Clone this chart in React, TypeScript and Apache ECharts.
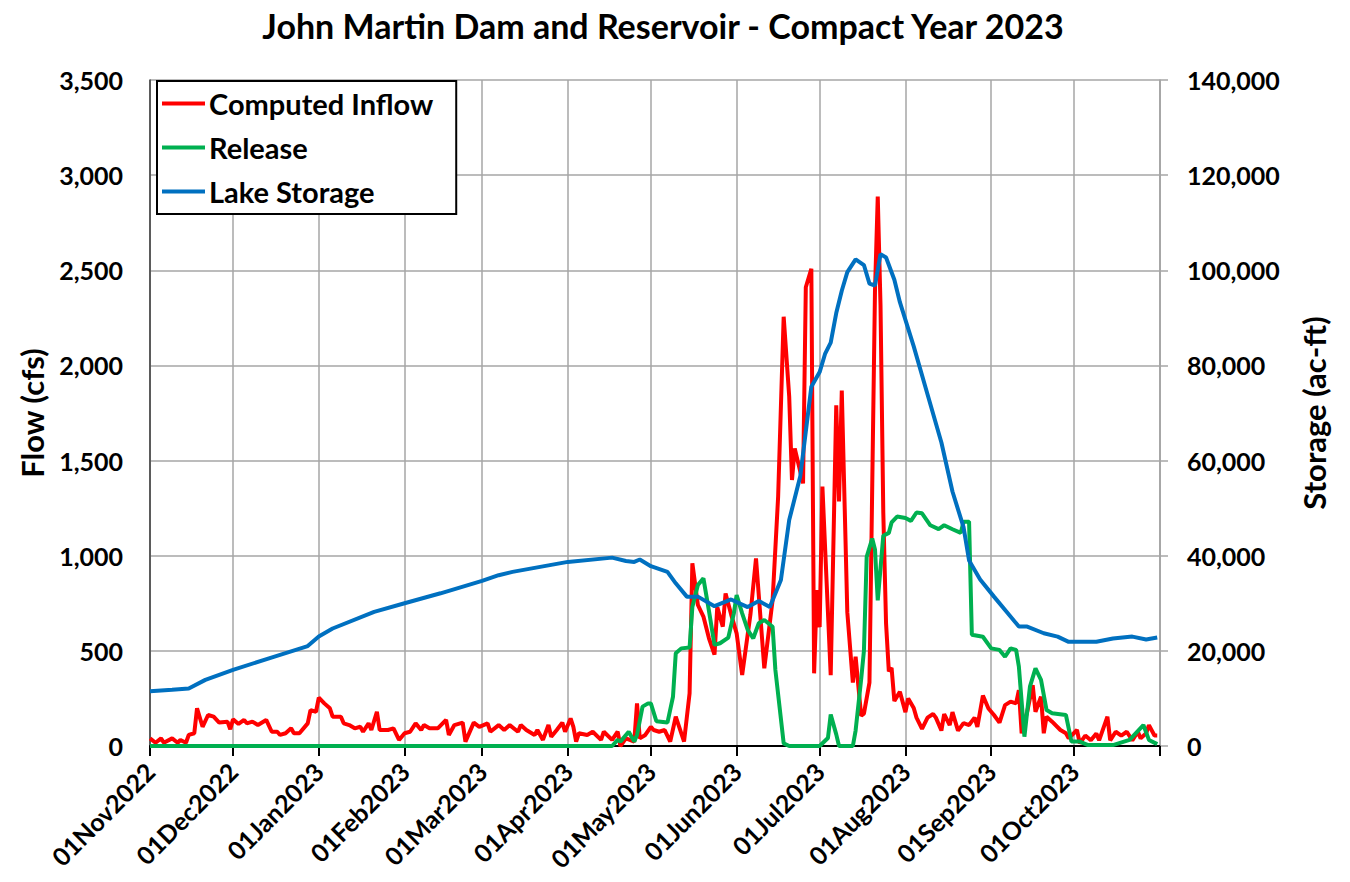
import React, { useEffect, useRef } from "react";
import * as echarts from "echarts";

const TITLE = "John Martin Dam and Reservoir - Compact Year 2023";
const SERIES_NAMES = ["Computed Inflow", "Release", "Lake Storage"];
const SERIES_COLORS = ["#ff0000", "#00b050", "#0070c0"];
const MONTH_ABBR = ["Jan", "Feb", "Mar", "Apr", "May", "Jun", "Jul", "Aug", "Sep", "Oct", "Nov", "Dec"];

// Computed Inflow (cfs)
const inflow: [string, number][] = [
  ["2022-11-01", 40], ["2022-11-03", 17], ["2022-11-05", 40], ["2022-11-06", 17], ["2022-11-09", 40],
  ["2022-11-11", 17], ["2022-11-12", 32], ["2022-11-14", 17], ["2022-11-15", 58], ["2022-11-17", 67],
  ["2022-11-18", 198], ["2022-11-20", 101], ["2022-11-22", 163], ["2022-11-24", 154], ["2022-11-26", 123],
  ["2022-11-29", 128], ["2022-11-30", 88], ["2022-12-01", 140], ["2022-12-03", 116], ["2022-12-05", 137],
  ["2022-12-06", 119], ["2022-12-08", 128], ["2022-12-10", 110], ["2022-12-13", 137], ["2022-12-15", 75],
  ["2022-12-17", 75], ["2022-12-18", 58], ["2022-12-20", 67], ["2022-12-22", 93], ["2022-12-23", 67],
  ["2022-12-25", 67], ["2022-12-28", 119], ["2022-12-29", 189], ["2022-12-31", 180], ["2023-01-01", 254],
  ["2023-01-03", 224], ["2023-01-05", 198], ["2023-01-06", 154], ["2023-01-09", 154], ["2023-01-10", 119],
  ["2023-01-12", 110], ["2023-01-14", 93], ["2023-01-16", 101], ["2023-01-17", 75], ["2023-01-19", 119],
  ["2023-01-20", 84], ["2023-01-22", 180], ["2023-01-23", 84], ["2023-01-26", 84], ["2023-01-28", 93],
  ["2023-01-30", 32], ["2023-02-01", 67], ["2023-02-03", 75], ["2023-02-05", 119], ["2023-02-07", 84],
  ["2023-02-08", 110], ["2023-02-10", 93], ["2023-02-13", 93], ["2023-02-16", 137], ["2023-02-17", 58],
  ["2023-02-19", 110], ["2023-02-22", 123], ["2023-02-23", 23], ["2023-02-26", 123], ["2023-02-28", 101],
  ["2023-03-03", 119], ["2023-03-04", 75], ["2023-03-07", 110], ["2023-03-09", 84], ["2023-03-11", 110],
  ["2023-03-14", 75], ["2023-03-15", 110], ["2023-03-17", 84], ["2023-03-20", 58], ["2023-03-21", 84],
  ["2023-03-23", 32], ["2023-03-25", 110], ["2023-03-26", 49], ["2023-03-28", 84], ["2023-03-30", 123],
  ["2023-03-31", 75], ["2023-04-02", 145], ["2023-04-03", 101], ["2023-04-04", 23], ["2023-04-05", 67],
  ["2023-04-08", 58], ["2023-04-10", 75], ["2023-04-13", 32], ["2023-04-14", 75], ["2023-04-17", 32],
  ["2023-04-19", 75], ["2023-04-20", 0], ["2023-04-22", 40], ["2023-04-25", 23], ["2023-04-26", 224],
  ["2023-04-27", 40], ["2023-04-29", 58], ["2023-05-01", 101], ["2023-05-02", 84], ["2023-05-04", 75],
  ["2023-05-06", 84], ["2023-05-08", 23], ["2023-05-10", 154], ["2023-05-13", 23], ["2023-05-15", 277],
  ["2023-05-16", 960], ["2023-05-18", 741], ["2023-05-20", 680], ["2023-05-22", 566], ["2023-05-24", 480],
  ["2023-05-25", 730], ["2023-05-27", 627], ["2023-05-28", 802], ["2023-05-30", 692], ["2023-06-01", 592],
  ["2023-06-03", 373], ["2023-06-06", 692], ["2023-06-08", 986], ["2023-06-11", 408], ["2023-06-14", 767],
  ["2023-06-16", 1310], ["2023-06-18", 2256], ["2023-06-20", 1836], ["2023-06-21", 1398], ["2023-06-22", 1564],
  ["2023-06-25", 1380], ["2023-06-26", 2411], ["2023-06-28", 2508], ["2023-06-29", 382], ["2023-06-30", 819],
  ["2023-07-01", 624], ["2023-07-02", 1363], ["2023-07-05", 372], ["2023-07-07", 1790], ["2023-07-08", 1285],
  ["2023-07-09", 1868], ["2023-07-11", 702], ["2023-07-13", 333], ["2023-07-14", 469], ["2023-07-16", 159],
  ["2023-07-17", 170], ["2023-07-19", 333], ["2023-07-21", 2392], ["2023-07-22", 2887], ["2023-07-23", 2314],
  ["2023-07-24", 1227], ["2023-07-25", 644], ["2023-07-26", 392], ["2023-07-27", 411], ["2023-07-28", 236],
  ["2023-07-30", 285], ["2023-08-01", 178], ["2023-08-02", 250], ["2023-08-04", 200], ["2023-08-05", 149],
  ["2023-08-07", 90], ["2023-08-09", 149], ["2023-08-11", 168], ["2023-08-12", 149], ["2023-08-14", 81],
  ["2023-08-15", 168], ["2023-08-17", 110], ["2023-08-18", 178], ["2023-08-20", 81], ["2023-08-22", 120],
  ["2023-08-24", 110], ["2023-08-26", 149], ["2023-08-27", 100], ["2023-08-29", 265], ["2023-08-31", 197],
  ["2023-09-02", 163], ["2023-09-04", 123], ["2023-09-06", 215], ["2023-09-08", 233], ["2023-09-10", 224],
  ["2023-09-11", 294], ["2023-09-12", 67], ["2023-09-14", 180], ["2023-09-16", 320], ["2023-09-17", 180],
  ["2023-09-19", 259], ["2023-09-20", 67], ["2023-09-21", 154], ["2023-09-23", 128], ["2023-09-26", 84],
  ["2023-09-28", 67], ["2023-09-29", 40], ["2023-10-02", 84], ["2023-10-03", 14], ["2023-10-05", 55],
  ["2023-10-07", 30], ["2023-10-09", 65], ["2023-10-10", 30], ["2023-10-13", 154], ["2023-10-14", 30],
  ["2023-10-16", 75], ["2023-10-18", 55], ["2023-10-20", 75], ["2023-10-22", 30], ["2023-10-24", 75],
  ["2023-10-25", 40], ["2023-10-27", 67], ["2023-10-28", 110], ["2023-10-30", 55], ["2023-10-31", 55],
];

// Release (cfs)
const release: [string, number][] = [
  ["2022-11-01", 0], ["2023-04-17", 0], ["2023-04-19", 32], ["2023-04-20", 23], ["2023-04-23", 75],
  ["2023-04-25", 23], ["2023-04-26", 58], ["2023-04-28", 207], ["2023-04-30", 224], ["2023-05-01", 224],
  ["2023-05-03", 130], ["2023-05-07", 123], ["2023-05-09", 259], ["2023-05-10", 487], ["2023-05-12", 513],
  ["2023-05-15", 518], ["2023-05-16", 730], ["2023-05-18", 846], ["2023-05-20", 881], ["2023-05-22", 710],
  ["2023-05-24", 531], ["2023-05-26", 540], ["2023-05-29", 570], ["2023-05-31", 697], ["2023-06-01", 793],
  ["2023-06-03", 697], ["2023-06-05", 610], ["2023-06-07", 566], ["2023-06-09", 645], ["2023-06-11", 662],
  ["2023-06-14", 627], ["2023-06-15", 400], ["2023-06-18", 14], ["2023-06-20", 0], ["2023-07-01", 0],
  ["2023-07-04", 42], ["2023-07-05", 165], ["2023-07-07", 61], ["2023-07-08", 0], ["2023-07-13", 0],
  ["2023-07-14", 81], ["2023-07-16", 350], ["2023-07-17", 500], ["2023-07-18", 994], ["2023-07-20", 1090],
  ["2023-07-21", 1033], ["2023-07-22", 765], ["2023-07-24", 1105], ["2023-07-26", 1120], ["2023-07-27", 1175],
  ["2023-07-29", 1206], ["2023-08-01", 1198], ["2023-08-03", 1183], ["2023-08-05", 1227], ["2023-08-07", 1223],
  ["2023-08-10", 1160], ["2023-08-13", 1140], ["2023-08-15", 1160], ["2023-08-18", 1139], ["2023-08-21", 1120],
  ["2023-08-22", 1179], ["2023-08-24", 1179], ["2023-08-25", 585], ["2023-08-29", 574], ["2023-09-01", 513],
  ["2023-09-04", 505], ["2023-09-06", 469], ["2023-09-08", 513], ["2023-09-10", 505], ["2023-09-11", 417],
  ["2023-09-13", 49], ["2023-09-15", 312], ["2023-09-17", 408], ["2023-09-19", 347], ["2023-09-21", 189],
  ["2023-09-23", 172], ["2023-09-28", 163], ["2023-09-30", 23], ["2023-10-03", 23], ["2023-10-06", 5],
  ["2023-10-15", 5], ["2023-10-21", 32], ["2023-10-26", 110], ["2023-10-28", 32], ["2023-10-31", 10],
];

// Lake Storage (ac-ft)
const storage: [string, number][] = [
  ["2022-11-01", 11500], ["2022-11-09", 11800], ["2022-11-15", 12100], ["2022-11-21", 13900], ["2022-12-01", 16000],
  ["2022-12-16", 18800], ["2022-12-28", 21000], ["2023-01-01", 23000], ["2023-01-06", 24700], ["2023-01-21", 28200],
  ["2023-02-01", 30000], ["2023-02-14", 32100], ["2023-03-01", 34700], ["2023-03-07", 35900], ["2023-03-12", 36600],
  ["2023-04-01", 38700], ["2023-04-17", 39600], ["2023-04-22", 38900], ["2023-04-25", 38700], ["2023-04-27", 39200],
  ["2023-05-01", 37800], ["2023-05-07", 36600], ["2023-05-10", 34200], ["2023-05-14", 31400], ["2023-05-18", 31400],
  ["2023-05-24", 29400], ["2023-05-30", 30800], ["2023-06-05", 29200], ["2023-06-09", 30500], ["2023-06-13", 29200],
  ["2023-06-17", 34900], ["2023-06-20", 47500], ["2023-06-24", 56700], ["2023-06-26", 66100], ["2023-06-28", 75500],
  ["2023-07-01", 78600], ["2023-07-03", 82500], ["2023-07-05", 84800], ["2023-07-07", 91000], ["2023-07-09", 95700],
  ["2023-07-11", 99600], ["2023-07-14", 102300], ["2023-07-17", 101100], ["2023-07-19", 97200], ["2023-07-21", 96800],
  ["2023-07-23", 103400], ["2023-07-25", 102700], ["2023-07-28", 98000], ["2023-07-30", 93300], ["2023-08-04", 84000],
  ["2023-08-09", 73900], ["2023-08-14", 63800], ["2023-08-18", 53500], ["2023-08-22", 46000], ["2023-08-24", 39000],
  ["2023-08-28", 35000], ["2023-09-02", 31400], ["2023-09-07", 27900], ["2023-09-11", 25100], ["2023-09-14", 25100],
  ["2023-09-20", 23700], ["2023-09-25", 23000], ["2023-09-29", 21900], ["2023-10-09", 21900], ["2023-10-15", 22600],
  ["2023-10-22", 23000], ["2023-10-27", 22400], ["2023-10-31", 22800],
];

const X_MIN = new Date(2022, 10, 1).getTime();
const X_MAX = new Date(2023, 10, 1).getTime();

const FONT = "Lato";

function fmtDate(v: number): string {
  const d = new Date(v);
  const dd = String(d.getDate()).padStart(2, "0");
  return dd + MONTH_ABBR[d.getMonth()] + d.getFullYear();
}

function fmtNum(v: number): string {
  return Math.round(v).toLocaleString("en-US");
}

export default function App() {
  const ref = useRef<HTMLDivElement>(null);

  useEffect(() => {
    if (!ref.current) return;
    const chart = echarts.init(ref.current, null, { renderer: "svg" });
    const grid = "#a6a6a6";
    chart.setOption({
      animation: false,
      backgroundColor: "#ffffff",
      textStyle: { fontFamily: FONT },
      title: {
        text: TITLE,
        left: 658,
        top: 3,
        textAlign: "center",
        textStyle: { fontFamily: FONT, fontSize: 34, fontWeight: "bold", color: "#000" },
      },
      legend: {
        orient: "vertical",
        left: 157,
        top: 81,
        data: SERIES_NAMES,
        icon: "rect",
        itemWidth: 43,
        itemHeight: 4,
        itemGap: 15,
        padding: [8, 23, 8, 5],
        borderColor: "#000",
        borderWidth: 2,
        backgroundColor: "#fff",
        textStyle: { fontFamily: FONT, fontSize: 29, fontWeight: "bold", color: "#000", padding: [0, 0, 0, -1] },
      },
      grid: { left: 150, right: 190, top: 80, bottom: 136, containLabel: false },
      xAxis: {
        type: "time",
        min: X_MIN,
        max: X_MAX,
        splitNumber: 12,
        axisLine: { show: true, lineStyle: { color: "#000", width: 2 } },
        axisTick: { show: true, length: 10, lineStyle: { color: "#000", width: 2 } },
        splitLine: { show: true, lineStyle: { color: grid, width: 1.5 } },
        axisLabel: {
          rotate: 45,
          margin: 21,
          showMinLabel: true,
          showMaxLabel: true,
          hideOverlap: false,
          fontFamily: FONT,
          fontSize: 25,
          fontWeight: "bold",
          color: "#000",
          formatter: (v: number) => (v >= X_MAX ? "" : fmtDate(v)),
        },
      },
      yAxis: [
        {
          type: "value",
          min: 0,
          max: 3500,
          interval: 500,
          name: "Flow (cfs)",
          nameLocation: "middle",
          nameRotate: 90,
          nameGap: 103,
          nameTextStyle: { fontFamily: FONT, fontSize: 31, fontWeight: "bold", color: "#000" },
          axisLine: { show: true, lineStyle: { color: "#404040", width: 1.5 } },
          axisTick: { show: false },
          splitLine: { show: true, lineStyle: { color: grid, width: 1.5 } },
          axisLabel: {
            margin: 27,
            fontFamily: FONT,
            fontSize: 25,
            fontWeight: "bold",
            color: "#000",
            formatter: fmtNum,
          },
        },
        {
          type: "value",
          position: "right",
          min: 0,
          max: 140000,
          interval: 20000,
          name: "Storage (ac-ft)",
          nameLocation: "middle",
          nameRotate: 90,
          nameGap: 138,
          nameTextStyle: { fontFamily: FONT, fontSize: 31, fontWeight: "bold", color: "#000" },
          axisLine: { show: true, lineStyle: { color: grid, width: 1.5 } },
          axisTick: { show: true, length: 8, lineStyle: { color: grid, width: 1.5 } },
          splitLine: { show: false },
          axisLabel: {
            margin: 27,
            fontFamily: FONT,
            fontSize: 25,
            fontWeight: "bold",
            color: "#000",
            formatter: fmtNum,
          },
        },
      ],
      series: [
        {
          name: SERIES_NAMES[0],
          type: "line",
          yAxisIndex: 0,
          data: inflow,
          showSymbol: false,
          symbol: "none",
          itemStyle: { color: SERIES_COLORS[0] },
          lineStyle: { color: SERIES_COLORS[0], width: 4 },
        },
        {
          name: SERIES_NAMES[1],
          type: "line",
          yAxisIndex: 0,
          data: release,
          showSymbol: false,
          symbol: "none",
          itemStyle: { color: SERIES_COLORS[1] },
          lineStyle: { color: SERIES_COLORS[1], width: 4 },
        },
        {
          name: SERIES_NAMES[2],
          type: "line",
          yAxisIndex: 1,
          data: storage,
          showSymbol: false,
          symbol: "none",
          itemStyle: { color: SERIES_COLORS[2] },
          lineStyle: { color: SERIES_COLORS[2], width: 4 },
        },
      ],
    });
    return () => chart.dispose();
  }, []);

  return (
    <div
      ref={ref}
      style={{ position: "fixed", left: 0, top: 0, width: 1350, height: 882, background: "#fff" }}
    />
  );
}
